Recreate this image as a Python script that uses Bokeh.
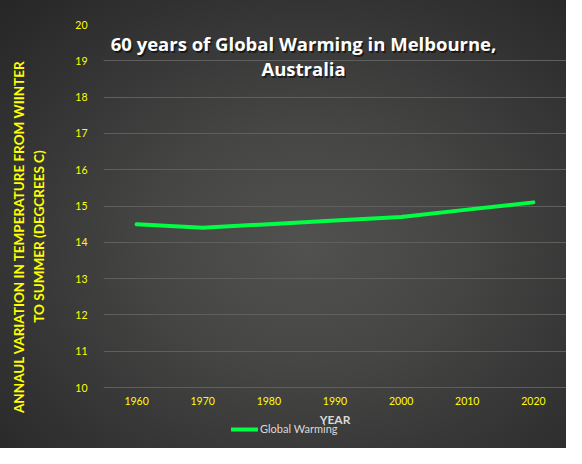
from bokeh.plotting import figure
from bokeh.models import Range1d, FixedTicker, Label, Legend, LegendItem
from bokeh.embed import file_html
from bokeh.resources import INLINE

# data
years = ["1960", "1970", "1980", "1990", "2000", "2010", "2020"]
temps = [14.5, 14.4, 14.5, 14.6, 14.7, 14.9, 15.1]
y_ticks = list(range(10, 21))

title_lines = ["60 years of Global Warming in Melbourne,", "Australia"]
y_label = "ANNAUL VARIATION IN TEMPERATURE FROM WIINTER\nTO SUMMER (DEGCREES C)"

FONT = "Lato"
YELLOW = "#ffff00"
LIGHT = "#d9d9d9"

# frame runs to the bottom of the canvas so the legend under the x axis is inside it;
# 10..20 fills the upper 363px, the rest is room for the x labels and legend
p = figure(width=566, height=448, x_range=years, y_range=Range1d(20 - 424 / 36.3, 20),
           output_backend="svg", toolbar_location=None,
           min_border_left=103, min_border_right=0,
           min_border_top=24, min_border_bottom=0)

# transparent canvas so the css radial gradient shows through
p.border_fill_color = None
p.background_fill_color = None
p.outline_line_color = None
p.styles = {"background": "radial-gradient(ellipse 75% 75% at 54% 55%, #51514f 0%, #464645 35%, #353535 70%, #272727 100%)"}

# grid
p.xgrid.grid_line_color = None
p.ygrid.grid_line_color = "#5f5f5d"
p.ygrid.grid_line_width = 1
p.yaxis.ticker = FixedTicker(ticks=y_ticks)

# axes
for ax in (p.xaxis, p.yaxis):
    ax.axis_line_color = None
    ax.major_tick_line_color = None
    ax.minor_tick_line_color = None
    ax.major_label_text_color = YELLOW
    ax.major_label_text_font = FONT
    ax.major_label_text_font_size = "10.5px"

p.yaxis.major_label_standoff = 10
p.yaxis.axis_label = y_label
p.yaxis.axis_label_text_color = YELLOW
p.yaxis.axis_label_text_font = FONT
p.yaxis.axis_label_text_font_style = "bold"
p.yaxis.axis_label_text_font_size = "13.5px"
p.yaxis.axis_label_text_line_height = 1.3
p.yaxis.axis_label_standoff = 25

p.xaxis.fixed_location = 10
p.xaxis.major_label_standoff = 3
p.xaxis.axis_label = "YEAR"
p.xaxis.axis_label_text_color = LIGHT
p.xaxis.axis_label_text_font = FONT
p.xaxis.axis_label_text_font_style = "bold"
p.xaxis.axis_label_text_font_size = "12px"
p.xaxis.axis_label_standoff = 4

# the line
r = p.line(years, temps, line_color="#00ff44", line_width=4, line_cap="round", line_join="round")

# title drawn inside the plot, with a soft shadow
for i, txt in enumerate(title_lines):
    yy = 405 - i * 25
    for dx, dy, col, alpha in [(1.5, -1.5, "black", 0.55), (0, 0, "white", 1.0)]:
        p.add_layout(Label(x=200 + dx, y=yy + dy, x_units="screen", y_units="screen",
                           text=txt, text_align="center", text_baseline="middle",
                           text_font="Open Sans", text_font_style="bold", text_font_size="18.5px",
                           text_color=col, text_alpha=alpha))

# legend under the axis title
legend = Legend(items=[LegendItem(label="Global Warming", renderers=[r])],
                location=(128, 13))
legend.background_fill_alpha = 0
legend.border_line_color = None
legend.padding = 0
legend.margin = 0
legend.spacing = 0
legend.glyph_width = 27
legend.glyph_height = 12
legend.label_height = 12
legend.label_standoff = 2
legend.label_text_font = FONT
legend.label_text_font_size = "11px"
legend.label_text_color = LIGHT
p.add_layout(legend)

open("out.html", "w").write(file_html(p, INLINE))
